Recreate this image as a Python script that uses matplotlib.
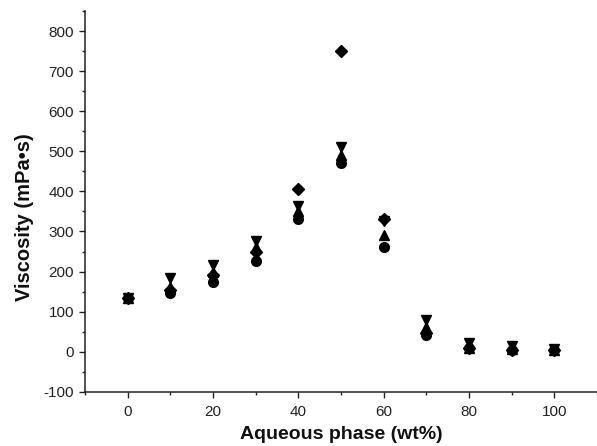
import numpy as np
import matplotlib.pyplot as plt
from matplotlib.ticker import MultipleLocator

plt.rcParams['font.family'] = ['Liberation Sans', 'DejaVu Sans']
plt.rcParams['axes.unicode_minus'] = False

aqueous = [0, 10, 20, 30, 40, 50, 60, 70, 80, 90, 100]
visc_circle = [133, 146, 175, 227, 331, 471, 262, 42, 8, 5, 3]
visc_up = [133, 162, 200, 262, 350, 492, 292, 62, 10, 6, 4]
visc_down = [133, 183, 216, 277, 364, 512, 325, 79, 21, 15, 6]
visc_diamond = [133, 155, 192, 250, 407, 750, 331, 46, 8, 5, 4]

fig = plt.figure(figsize=(5.97, 4.46), dpi=100)
ax = fig.add_axes([0.1424, 0.1217, 0.8576, 0.8533])

ax.plot(aqueous, visc_down, 'v', color='black', ms=7.5, ls='none')
ax.plot(aqueous, visc_up, '^', color='black', ms=7.5, ls='none')
ax.plot(aqueous, visc_diamond, 'D', color='black', ms=6, ls='none')
ax.plot(aqueous, visc_circle, 'o', color='black', ms=7, ls='none')

ax.set_xlim(-10, 110)
ax.set_ylim(-100, 850)
ax.xaxis.set_major_locator(MultipleLocator(20))
ax.xaxis.set_minor_locator(MultipleLocator(10))
ax.yaxis.set_major_locator(MultipleLocator(100))
ax.yaxis.set_minor_locator(MultipleLocator(50))

for s in ['top', 'right']:
    ax.spines[s].set_visible(False)
for s in ['left', 'bottom']:
    ax.spines[s].set_linewidth(1.1)
    ax.spines[s].set_color('#222222')

ax.tick_params(which='major', direction='out', length=4.5, width=1, colors='#222222',
               labelsize=11)
ax.tick_params(axis='x', which='major', pad=5)
ax.tick_params(which='minor', direction='out', length=2.5, width=1, colors='#222222')

ax.set_xlabel('Aqueous phase (wt%)', fontsize=14, fontweight='bold', color='#111111', labelpad=5)
ax.set_ylabel('Viscosity (mPa•s)', fontsize=14.5, fontweight='bold', color='#111111')
ax.yaxis.set_label_coords(-0.1, 0.46)

fig.savefig('out.png', dpi=100)
